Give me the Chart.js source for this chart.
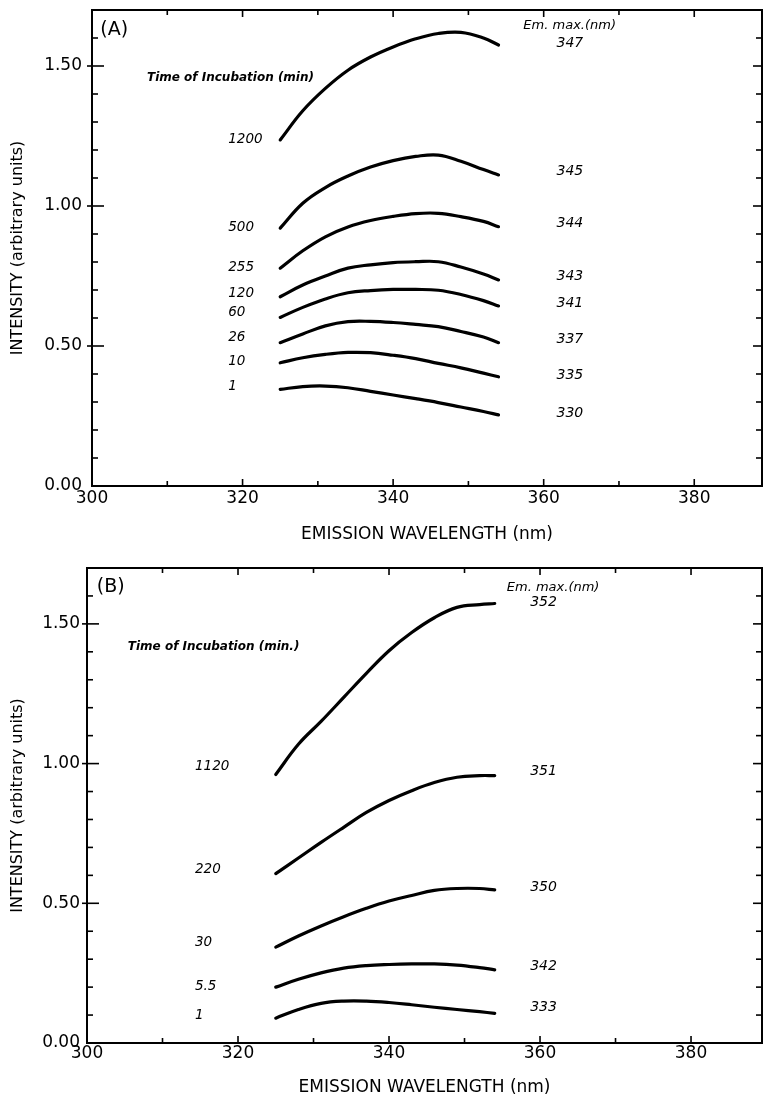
<!DOCTYPE html>
<html><head><meta charset="utf-8">
<script src="https://cdn.jsdelivr.net/npm/chart.js@4.4.0/dist/chart.umd.min.js"></script>
<style>
html,body{margin:0;padding:0;background:#fff;}
.box{position:absolute;left:0;width:763px;height:552px;}
#a{top:0}#b{top:552px}
</style></head><body>
<div class="box" id="a"><canvas id="ca"></canvas></div>
<div class="box" id="b"><canvas id="cb"></canvas></div>
<script>
// ---- data ----
const wavelengths = [325,328,331,334,337,340,343,346,349,352,354];

// Panel A series (time of incubation, min)
const timesA = ['1200','500','255','120','60','26','10','1'];
const emMaxA = ['347','345','344','343','341','337','335','330'];
const a1200 = [1.236,1.34,1.42,1.485,1.532,1.568,1.597,1.616,1.62,1.60,1.575];
const a500  = [0.921,1.01,1.066,1.107,1.139,1.162,1.177,1.182,1.16,1.13,1.111];
const a255  = [0.778,0.84,0.89,0.925,0.948,0.963,0.973,0.974,0.962,0.945,0.926];
const a120  = [0.676,0.718,0.75,0.778,0.79,0.798,0.801,0.801,0.782,0.757,0.736];
const a60   = [0.602,0.638,0.668,0.69,0.698,0.702,0.702,0.699,0.684,0.662,0.643];
const a26   = [0.512,0.543,0.572,0.587,0.588,0.584,0.577,0.569,0.552,0.532,0.512];
const a10   = [0.44,0.458,0.47,0.477,0.476,0.467,0.455,0.438,0.422,0.403,0.39];
const a1    = [0.345,0.355,0.357,0.351,0.338,0.325,0.312,0.298,0.282,0.266,0.254];
const seriesA = [a1200,a500,a255,a120,a60,a26,a10,a1];

// Panel B series
const timesB = ['1120','220','30','5.5','1'];
const emMaxB = ['352','351','350','342','333'];
const b1120 = [0.961,1.069,1.151,1.237,1.323,1.404,1.469,1.522,1.559,1.569,1.573];
const b220  = [0.606,0.662,0.718,0.772,0.825,0.868,0.903,0.932,0.951,0.957,0.957];
const b30   = [0.343,0.383,0.419,0.452,0.482,0.508,0.528,0.546,0.553,0.553,0.548];
const b5_5  = [0.2,0.228,0.251,0.268,0.277,0.281,0.283,0.283,0.279,0.27,0.262];
const b1    = [0.089,0.12,0.142,0.15,0.15,0.145,0.137,0.128,0.12,0.112,0.106];
const seriesB = [b1120,b220,b30,b5_5,b1];

// label anchor values (intensity) for annotations
const timeLabelYA = [1.236,0.925,0.782,0.689,0.618,0.532,0.443,0.354];
const emLabelYA   = [1.582,1.125,0.939,0.75,0.654,0.525,0.396,0.261];
const timeLabelYB = [0.989,0.62,0.358,0.201,0.1];
const emLabelYB   = [1.577,0.971,0.556,0.276,0.129];

const xLabelEvery = 20;
const yLabelEvery = 0.5;

// ---- drawing ----
const FONT = 'DejaVu Sans';

const framePlugin = {
  id: 'frame',
  afterDraw(chart, args, o) {
    const {ctx, chartArea: a, scales: {x, y}} = chart;
    ctx.save();
    ctx.strokeStyle = '#000';
    ctx.lineWidth = 2;
    ctx.strokeRect(a.left, a.top, a.right - a.left, a.bottom - a.top);
    ctx.lineWidth = 1.6;
    const line = (x1, y1, x2, y2) => { ctx.beginPath(); ctx.moveTo(x1, y1); ctx.lineTo(x2, y2); ctx.stroke(); };
    x.ticks.forEach(t => {
      const px = x.getPixelForValue(t.value);
      if (px <= a.left + 1 || px >= a.right - 1) return;
      const major = Math.round(t.value) % xLabelEvery === 0;
      const L = major ? 7 : 5;
      line(px, a.bottom, px, a.bottom - L);
      line(px, a.top, px, a.top + L);
    });
    y.ticks.forEach(t => {
      const py = y.getPixelForValue(t.value);
      if (py <= a.top + 1 || py >= a.bottom - 1) return;
      const major = Math.round(t.value * 10) % Math.round(yLabelEvery * 10) === 0;
      if (major) line(a.left - 5, py, a.left + 12, py); else line(a.left, py, a.left + 6, py);
      line(a.right, py, a.right - (major ? 9 : 6), py);
    });
    ctx.fillStyle = '#000';
    ctx.textBaseline = 'middle';
    ctx.textAlign = 'left';
    const txt = (s, xv, yv, font) => { ctx.font = font; ctx.fillText(s, x.getPixelForValue(xv), y.getPixelForValue(yv)); };
    txt(o.panel, o.panelPos[0], o.panelPos[1], '19px ' + FONT);
    txt(o.timeHeader, o.timeHeaderPos[0], o.timeHeaderPos[1], 'italic bold 12px ' + FONT);
    txt('Em. max.(nm)', o.emHeaderPos[0], o.emHeaderPos[1], 'italic 13px ' + FONT);
    o.times.forEach((s, i) => txt(s, o.timeX, o.timeY[i], 'italic 13.5px ' + FONT));
    o.ems.forEach((s, i) => txt(s, o.emX, o.emY[i], 'italic 14px ' + FONT));
    ctx.restore();
  }
};

function makeChart(canvasId, series, cfg) {
  const datasets = series.map(vals => ({
    data: wavelengths.map((w, i) => ({x: w, y: vals[i]})),
    borderColor: '#000',
    borderWidth: 3.2,
    pointRadius: 0,
    fill: false,
    tension: 0.4,
    borderCapStyle: 'round'
  }));
  return new Chart(document.getElementById(canvasId), {
    type: 'line',
    data: {datasets},
    plugins: [framePlugin],
    options: {
      responsive: true,
      maintainAspectRatio: false,
      animation: false,
      devicePixelRatio: 1,
      layout: {padding: {top: cfg.top, right: 1, left: 0, bottom: 0}},
      plugins: {
        legend: {display: false},
        tooltip: {enabled: false},
        frame: cfg.frame
      },
      scales: {
        x: {
          type: 'linear', min: 300, max: cfg.xmax,
          grid: {display: false, drawTicks: false},
          border: {display: false},
          afterFit: s => { s.height = cfg.xh; s.paddingLeft = 0; s.paddingRight = 0; },
          ticks: {
            stepSize: 10, autoSkip: false, includeBounds: false, maxRotation: 0,
            padding: cfg.xpad, color: '#000', font: {family: FONT, size: 17},
            callback: v => (Math.round(v) % xLabelEvery === 0 ? String(v) : '')
          },
          title: {display: true, text: 'EMISSION WAVELENGTH (nm)', color: '#000',
            font: {family: FONT, size: 17}, padding: {top: 0, bottom: cfg.xtpad}}
        },
        y: {
          type: 'linear', min: 0, max: 1.7,
          grid: {display: false, drawTicks: false},
          border: {display: false},
          afterFit: s => { s.width = cfg.yw; s.paddingTop = 0; s.paddingBottom = 0; },
          ticks: {
            stepSize: 0.1, autoSkip: false, includeBounds: false,
            padding: cfg.ypad, color: '#000', font: {family: FONT, size: 17},
            callback: v => { const r = Math.round(v * 10); return r % Math.round(yLabelEvery * 10) === 0 ? (r / 10).toFixed(2) : ''; }
          },
          title: {display: true, text: 'INTENSITY (arbitrary units)', color: '#000',
            font: {family: FONT, size: 16}, padding: {top: 8, bottom: 0}}
        }
      }
    }
  });
}

makeChart('ca', seriesA, {
  top: 10, xmax: 389, xh: 66, yw: 92, xpad: 2, ypad: 10, xtpad: 7,
  frame: {
    panel: '(A)', panelPos: [301.1, 1.629],
    timeHeader: 'Time of Incubation (min)', timeHeaderPos: [307.3, 1.457],
    emHeaderPos: [357.3, 1.643],
    times: timesA, timeX: 318.1, timeY: timeLabelYA,
    ems: emMaxA, emX: 361.7, emY: emLabelYA
  }
});

makeChart('cb', seriesB, {
  top: 16, xmax: 389.4, xh: 61, yw: 87, xpad: 0, ypad: 7, xtpad: 6,
  frame: {
    panel: '(B)', panelPos: [301.3, 1.631],
    timeHeader: 'Time of Incubation (min.)', timeHeaderPos: [305.4, 1.416],
    emHeaderPos: [355.6, 1.631],
    times: timesB, timeX: 314.3, timeY: timeLabelYB,
    ems: emMaxB, emX: 358.7, emY: emLabelYB
  }
});
</script>
</body></html>
